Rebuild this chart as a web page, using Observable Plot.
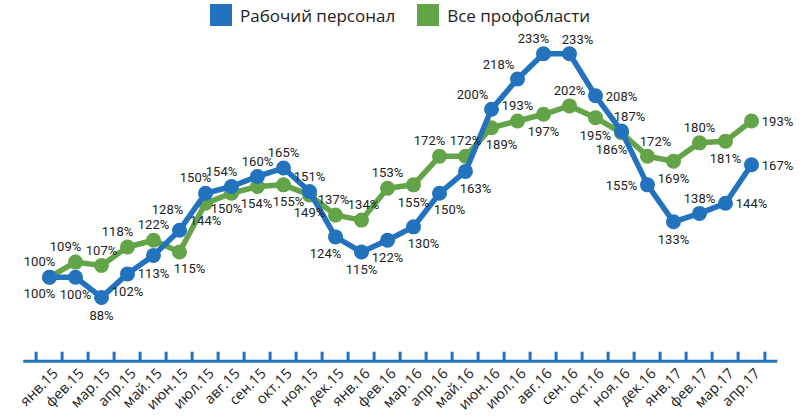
<!DOCTYPE html>
<html><head><meta charset="utf-8">
<script src="https://cdn.jsdelivr.net/npm/d3@7"></script>
<script src="https://cdn.jsdelivr.net/npm/@observablehq/plot@0.6"></script>
<style>
body{margin:0;background:#fff;width:805px;height:420px;overflow:hidden}
#legend{height:30px;display:flex;align-items:center;padding-left:210px;font-family:"Open Sans";font-size:17px;color:#222}
.item{display:flex;align-items:center;margin-right:22px}
.sw{width:22px;height:22px;margin-right:8px}
</style></head><body>
<div id="legend"></div><div id="chart"></div>
<script>
const months = ["янв.15","фев.15","мар.15","апр.15","май.15","июн.15","июл.15","авг.15","сен.15","окт.15","ноя.15","дек.15","янв.16","фев.16","мар.16","апр.16","май.16","июн.16","июл.16","авг.16","сен.16","окт.16","ноя.16","дек.16","янв.17","фев.17","мар.17","апр.17"];
const seriesNames = ["Рабочий персонал","Все профобласти"];
const workers = [100,100,88,102,113,128,150,154,160,165,151,124,115,122,130,150,163,200,218,233,233,208,187,155,133,138,144,167];
const allAreas = [100,109,107,118,122,115,144,150,154,155,149,137,134,153,155,172,172,189,193,197,202,195,186,172,169,180,181,193];
// label placement codes (style only)
const workersLabelPos = ["bl","b","b","b","b","tlh","tl","tl","t","t","t","bl","b","b","br","br","br","tll","tll","tl","tr","r","tr","l","b","t","r","r"];
const allLabelPos = ["tl","tl","t","tl","t","br","b","b--","b-","b+","b","t-","t+","t","b","tl","t","br","t","b","t","b","bl","tr","b","t","b","r"];

const BLUE = "#2372be", GREEN = "#63a448";
const W = 805, H = 390, mL = 24.3, mR = 29.7, mB = 59.3;
const bw = (W - mL - mR) / months.length;
const frameH = H - mB;

const legend = document.getElementById("legend");
[[seriesNames[0], BLUE],[seriesNames[1], GREEN]].forEach(([name, c]) => {
  const it = document.createElement("div"); it.className = "item";
  const sw = document.createElement("div"); sw.className = "sw"; sw.style.background = c;
  const tx = document.createElement("span"); tx.textContent = name;
  it.append(sw, tx); legend.append(it);
});

const rows = (vals, pos) => months.map((m, i) => ({m, v: vals[i], pos: pos[i]}));
const blueData = rows(workers, workersLabelPos);
const greenData = rows(allAreas, allLabelPos);
const offsets = {t:[0,-15], "t-":[-2,-15], "t+":[2,-15], b:[0,18], "b-":[-1,17], "b--":[-5,16], "b+":[5,17],
  tl:[-10,-15], tlh:[-12,-20], tll:[-19,-14], tr:[8,-14], bl:[-10,17], br:[10,17], l:[-26,1], r:[26,1]};
const labelMarks = data => Object.entries(offsets).map(([k,[dx,dy]]) =>
  Plot.text(data.filter(d => d.pos === k), {x: "m", y: "v", text: d => d.v + "%", dx, dy,
    fontFamily: "Roboto", fontSize: 13, fill: "#222"}));

const chart = Plot.plot({
  width: W, height: H, marginLeft: mL, marginRight: mR, marginTop: 0, marginBottom: mB,
  x: {type: "band", domain: months, padding: 0, label: null},
  y: {domain: [88, 233], range: [266.9, 23.3], axis: null},
  style: {fontFamily: "Open Sans", fontSize: "14.5px", color: "#222", overflow: "visible", background: "#fff"},
  marks: [
    Plot.frame({anchor: "bottom", stroke: BLUE, strokeWidth: 3}),
    Plot.ruleX(months, {x: d => d, dx: -bw/2, insetTop: frameH - 9, stroke: BLUE, strokeWidth: 3}),
    Plot.ruleX([months[months.length-1]], {x: d => d, dx: bw/2, insetTop: frameH - 9, stroke: BLUE, strokeWidth: 3}),
    Plot.axisX({tickSize: 0, tickRotate: -45, tickPadding: 10, dx: 6, fontSize: 14.5, fill: "#222"}),
    Plot.line(greenData, {x: "m", y: "v", stroke: GREEN, strokeWidth: 5.5}),
    Plot.dot(greenData, {x: "m", y: "v", r: 7.5, fill: GREEN}),
    Plot.line(blueData, {x: "m", y: "v", stroke: BLUE, strokeWidth: 5.5}),
    Plot.dot(blueData, {x: "m", y: "v", r: 7.5, fill: BLUE}),
    ...labelMarks(greenData),
    ...labelMarks(blueData)
  ]
});
document.getElementById("chart").append(chart);
</script>
</body></html>
